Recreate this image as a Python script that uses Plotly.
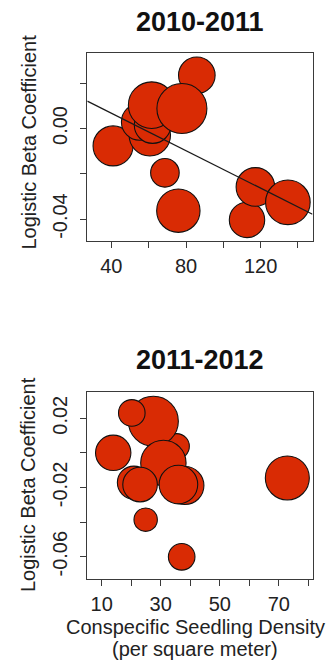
import plotly.graph_objects as go

# ---- 2010-2011 ----
density_1011 = [40.9, 68.7, 75.9, 112.7, 117.2, 60.6, 55.2, 62.1, 61.6, 85.8, 77.8, 134.6]
beta_1011 = [-0.0077, -0.0196, -0.0363, -0.0404, -0.0258, -0.0030, 0.0029, 0.0015,
             0.0103, 0.0235, 0.0088, -0.0326]
weight_1011 = [20.0, 14.3, 21.7, 17.7, 19.3, 20.7, 18.3, 18.3, 23.3, 18.3, 25.0, 22.3]
fit_intercept_1011 = 0.02331
fit_slope_1011 = -0.000414

# ---- 2011-2012 ----
density_1112 = [13.9, 35.4, 27.5, 20.2, 30.9, 20.9, 23.0, 38.2, 36.0, 24.9, 37.1, 72.9]
beta_1112 = [0.0000, 0.0038, 0.0183, 0.0231, -0.0058, -0.0172, -0.0183, -0.0189,
             -0.0183, -0.0386, -0.0601, -0.0145]
weight_1112 = [17.7, 12.7, 25.0, 13.3, 22.7, 16.5, 17.3, 19.0, 19.3, 11.7, 13.3, 22.0]

x_range_1011 = [27.1, 147.8]
y_range_1011 = [-0.0497, 0.0332]
x_range_1112 = [5.12, 81.7]
y_range_1112 = [-0.0729, 0.035]

x_ticks_1011 = [40, 60, 80, 100, 120, 140]
x_text_1011 = ["40", "", "80", "", "120", ""]
y_ticks_1011 = [-0.04, -0.02, 0.0, 0.02]
y_text_1011 = ["-0.04", "", "0.00", ""]
x_ticks_1112 = [10, 20, 30, 40, 50, 60, 70, 80]
x_text_1112 = ["10", "", "30", "", "50", "", "70", ""]
y_ticks_1112 = [-0.06, -0.04, -0.02, 0.0, 0.02]
y_text_1112 = ["-0.06", "", "-0.02", "", "0.02"]

W, H = 336, 661
FONT = "Liberation Sans, Arial, Helvetica, sans-serif"
RED = "#D92B04"
AXIS_COLOR = "#3a3a3a"

fig = go.Figure()

bubble = dict(color=RED, line=dict(color="#111111", width=1.1),
              sizemode="diameter", sizeref=0.5, opacity=1)

fig.add_trace(go.Scatter(
    x=density_1011, y=beta_1011, mode="markers",
    marker=dict(size=weight_1011, **bubble),
    xaxis="x", yaxis="y", showlegend=False, hoverinfo="x+y"))

# fitted regression line across the full axis span
fx = list(x_range_1011)
fy = [fit_intercept_1011 + fit_slope_1011 * v for v in fx]
fig.add_trace(go.Scatter(
    x=fx, y=fy, mode="lines", line=dict(color="#1a1a1a", width=1.3),
    xaxis="x", yaxis="y", showlegend=False, hoverinfo="skip"))

fig.add_trace(go.Scatter(
    x=density_1112, y=beta_1112, mode="markers",
    marker=dict(size=weight_1112, **bubble),
    xaxis="x2", yaxis="y2", showlegend=False, hoverinfo="x+y"))

tick_font = dict(family=FONT, size=20, color="#222222")


def axis(domain, rng, vals, text, anchor, angle=0, standoff=4):
    return dict(
        domain=domain, range=rng, anchor=anchor,
        tickmode="array", tickvals=vals, ticktext=text,
        ticks="outside", ticklen=6, tickwidth=1, tickcolor=AXIS_COLOR,
        showline=True, linecolor=AXIS_COLOR, linewidth=1, mirror=True,
        showgrid=False, zeroline=False, tickfont=tick_font, tickangle=angle,
        ticklabelstandoff=standoff,
    )


fig.update_layout(
    width=W, height=H,
    margin=dict(l=0, r=0, t=0, b=0),
    paper_bgcolor="white", plot_bgcolor="white",
    xaxis=axis([87.3 / W, 312.5 / W], x_range_1011, x_ticks_1011, x_text_1011, "y", standoff=1),
    yaxis=axis([1 - 241 / H, 1 - 53.3 / H], y_range_1011, y_ticks_1011, y_text_1011, "x", -90, 5),
    xaxis2=axis([87.3 / W, 313.3 / W], x_range_1112, x_ticks_1112, x_text_1112, "y2", standoff=1),
    yaxis2=axis([1 - 579 / H, 1 - 392.3 / H], y_range_1112, y_ticks_1112, y_text_1112, "x2", -90, 5),
)

title_font = dict(family=FONT, size=27, color="#111111")
label_font = dict(family=FONT, size=20, color="#222222")

annotations = [
    dict(text="<b>2010-2011</b>", x=200 / W, y=1 - 21.7 / H, font=title_font),
    dict(text="<b>2011-2012</b>", x=200 / W, y=1 - 360 / H, font=title_font),
    dict(text="Logistic Beta Coefficient", x=28 / W, y=1 - 142.5 / H,
         textangle=-90, font=label_font),
    dict(text="Logistic Beta Coefficient", x=28 / W, y=1 - 485 / H,
         textangle=-90, font=label_font),
    dict(text="Conspecific Seedling Density", x=195 / W, y=1 - 627 / H, font=label_font),
    dict(text="(per square meter)", x=195 / W, y=1 - 649 / H, font=label_font),
]
for a in annotations:
    a.update(xref="paper", yref="paper", xanchor="center", yanchor="middle",
             showarrow=False)
fig.update_layout(annotations=annotations)

fig.write_html("out.html")
